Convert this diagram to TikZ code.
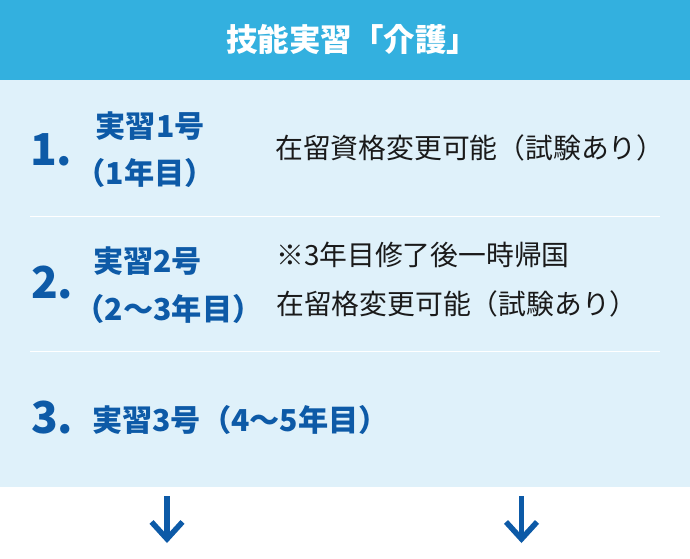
\documentclass[tikz,border=0pt]{standalone}
\usepackage{fontspec}
\newfontfamily\jp{Noto Sans CJK JP}
\usetikzlibrary{arrows.meta}
\definecolor{headblue}{HTML}{33B0DF}
\definecolor{bodyblue}{HTML}{DFF1FA}
\definecolor{deepblue}{HTML}{0D5AA7}
\definecolor{ink}{HTML}{1A1A1A}
\tikzset{
  title/.style={font=\jp\bfseries\fontsize{31.5}{32}\selectfont, text=white, inner sep=0pt, anchor=base},
  bignum/.style={font=\jp\bfseries\fontsize{44}{44}\selectfont, text=deepblue, inner sep=0pt, anchor=base west},
  stage/.style={font=\jp\bfseries\fontsize{30.2}{31}\selectfont, text=deepblue, inner sep=0pt, anchor=base west},
  note/.style={font=\jp\fontsize{27.8}{28}\selectfont, text=ink, inner sep=0pt, anchor=base west},
  sepline/.style={draw=white, line width=1pt},
  downarrow/.style={draw=deepblue, line width=5.5pt, -{Straight Barb[length=17pt,width=31pt,line width=5.5pt]}}
}
\begin{document}
\begin{tikzpicture}[x=1pt,y=-1pt]
\useasboundingbox (0,0) rectangle (690,558);
\fill[white] (0,0) rectangle (690,558);
\fill[headblue] (0,0) rectangle (690,80);
\fill[bodyblue] (0,80) rectangle (690,487);
% title
\node[title] (ttl) at (352,51) {技能実習「介護」};
% separators
\coordinate (s1a) at (30,216); \coordinate (s1b) at (660,216);
\coordinate (s2a) at (30,351); \coordinate (s2b) at (660,351);
\draw[sepline] (s1a) -- (s1b);
\draw[sepline] (s2a) -- (s2b);
% row 1
\node[bignum] (n1) at (30,165) {1.};
\node[stage] (r1a) at (95.5,137.1) {実習1号};
\node[stage] (r1b) at (75.5,184.6) {（1年目）};
\node[note] (r1c) at (275,158) {在留資格変更可能（試験あり）};
% row 2
\node[bignum] (n2) at (31,298) {2.};
\node[stage] (r2a) at (93,272.6) {実習2号};
\node[stage] (r2b) at (74.5,320.1) {（2〜3年目）};
\node[note] (r2c) at (276,265.5) {※3年目修了後一時帰国};
\node[note] (r2d) at (276,314.5) {在留格変更可能（試験あり）};
% row 3
\node[bignum] (n3) at (31,433) {3.};
\node[stage] (r3a) at (92,431.1) {実習3号（4〜5年目）};
% arrows
\coordinate (a1s) at (167,496); \coordinate (a1e) at (167,543);
\coordinate (a2s) at (521.5,496); \coordinate (a2e) at (521.5,543);
\draw[downarrow] (a1s) -- (a1e);
\draw[downarrow] (a2s) -- (a2e);
\end{tikzpicture}
\end{document}
